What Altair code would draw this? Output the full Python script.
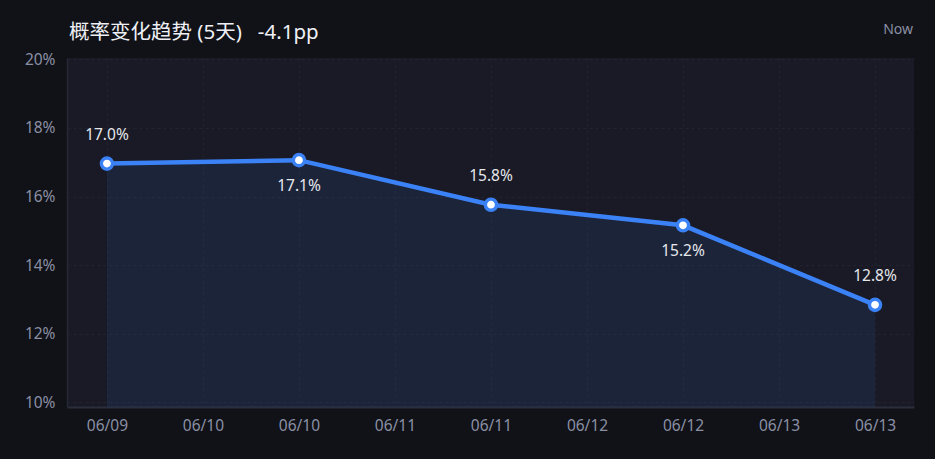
import altair as alt
import pandas as pd
import jinja2

# ---- data ----
days = ["06/09", "06/10", "06/11", "06/12", "06/13"]
day_index = [0, 1, 2, 3, 4]
probs = [16.96, 17.06, 15.76, 15.16, 12.84]
label_side = ["above", "below", "above", "below", "above"]
tick_labels = ["06/09", "06/10", "06/10", "06/11", "06/11",
               "06/12", "06/12", "06/13", "06/13"]
tick_values = [0, 0.5, 1, 1.5, 2, 2.5, 3, 3.5, 4]
y_ticks = [10, 12, 14, 16, 18, 20]
title_text = ["概率变化趋势 (5天)\u00a0\u00a0\u00a0-4.1pp"]
corner_text = ["Now"]

# ---- styling ----
FONT = "Noto Sans, Noto Sans CJK SC"
BLUE = "#3b82f6"
PAGE_BG = "#111217"
PLOT_BG = "#191a25"
W, H = 847, 349
XMIN, XMAX = -0.208, 4.203
YMIN, YMAX = 9.86, 20.04

df = pd.DataFrame({"day": day_index, "date": days, "prob": probs, "side": label_side})
df["label"] = [f"{v:.1f}%" for v in probs]

label_js = "[" + ",".join(f"'{t}'" for t in tick_labels) + "]"

x_enc = alt.X(
    "day:Q",
    scale=alt.Scale(domain=[XMIN, XMAX], nice=False, zero=False),
    axis=alt.Axis(values=tick_values, labelExpr=f"{label_js}[round(datum.value*2)]",
                  title=None, labelPadding=11, domainWidth=2, domainColor="#2b2e3d"),
)
y_enc = alt.Y(
    "prob:Q",
    scale=alt.Scale(domain=[YMIN, YMAX], nice=False, zero=False),
    axis=alt.Axis(values=y_ticks, labelExpr="datum.value + '%'", title=None,
                  labelPadding=12, domainWidth=1.5, domainColor="#262836"),
)

base = alt.Chart(df).encode(x=x_enc, y=y_enc)

area = base.mark_area(color=BLUE, opacity=0.1).encode(y2=alt.datum(YMIN))
line = base.mark_line(color=BLUE, strokeWidth=4.5)
points = base.mark_point(shape="circle", filled=True, fill="white", stroke=BLUE,
                         strokeWidth=3.4, size=125, opacity=1)
lab_above = base.transform_filter("datum.side == 'above'").mark_text(
    dy=-29, fontSize=15.5, font=FONT, color="#e5e7eb").encode(text="label:N")
lab_below = base.transform_filter("datum.side == 'below'").mark_text(
    dy=26, fontSize=15.5, font=FONT, color="#e5e7eb").encode(text="label:N")

title = alt.Chart(pd.DataFrame({"t": title_text})).mark_text(
    align="left", baseline="alphabetic", fontSize=20.5, font=FONT, color="#eef0f5"
).encode(x=alt.value(2), y=alt.value(-19), text="t:N")

now = alt.Chart(pd.DataFrame({"t": corner_text})).mark_text(
    align="right", baseline="middle", fontSize=14, font=FONT, color="#8a8fa5"
).encode(x=alt.value(W - 1), y=alt.value(-28), text="t:N")

chart = alt.layer(area, line, points, lab_above, lab_below, title, now).properties(
    width=W, height=H,
    padding={"left": 59, "top": 50, "right": 13, "bottom": 44},
    autosize=alt.AutoSizeParams(type="none"),
    background=PAGE_BG,
).configure_view(stroke=None, fill=PLOT_BG).configure_axis(
    grid=True, gridColor="#21232e", gridDash=[3, 3], gridWidth=1,
    ticks=False, labelColor="#8a8fa5", labelFont=FONT, labelFontSize=15.5,
)

# standard page, with the body colored like the chart background
PAGE_TEMPLATE = jinja2.Template("""<!DOCTYPE html>
<html>
<head>
  <meta charset="utf-8">
  <style>
    body { background: """ + PAGE_BG + """; }
    #{{ output_div }}.vega-embed { width: 100%; display: flex; }
  </style>
  <script type="text/javascript" src="{{ base_url }}/vega@{{ vega_version }}"></script>
  <script type="text/javascript" src="{{ base_url }}/vega-lite@{{ vegalite_version }}"></script>
  <script type="text/javascript" src="{{ base_url }}/vega-embed@{{ vegaembed_version }}"></script>
</head>
<body>
  <div id="{{ output_div }}"></div>
  <script>
    (function(vegaEmbed) {
      var spec = {{ spec }};
      var embedOpt = {{ embed_options }};
      function showError(el, error){
        el.innerHTML = ('<div style="color:red;"><p>JavaScript Error: ' + error.message + '</p></div>');
        throw error;
      }
      const el = document.getElementById('{{ output_div }}');
      vegaEmbed("#{{ output_div }}", spec, embedOpt).catch(error => showError(el, error));
    })(vegaEmbed);
  </script>
</body>
</html>
""")

chart.save("out.html", embed_options={"renderer": "svg", "actions": False},
           template=PAGE_TEMPLATE)
